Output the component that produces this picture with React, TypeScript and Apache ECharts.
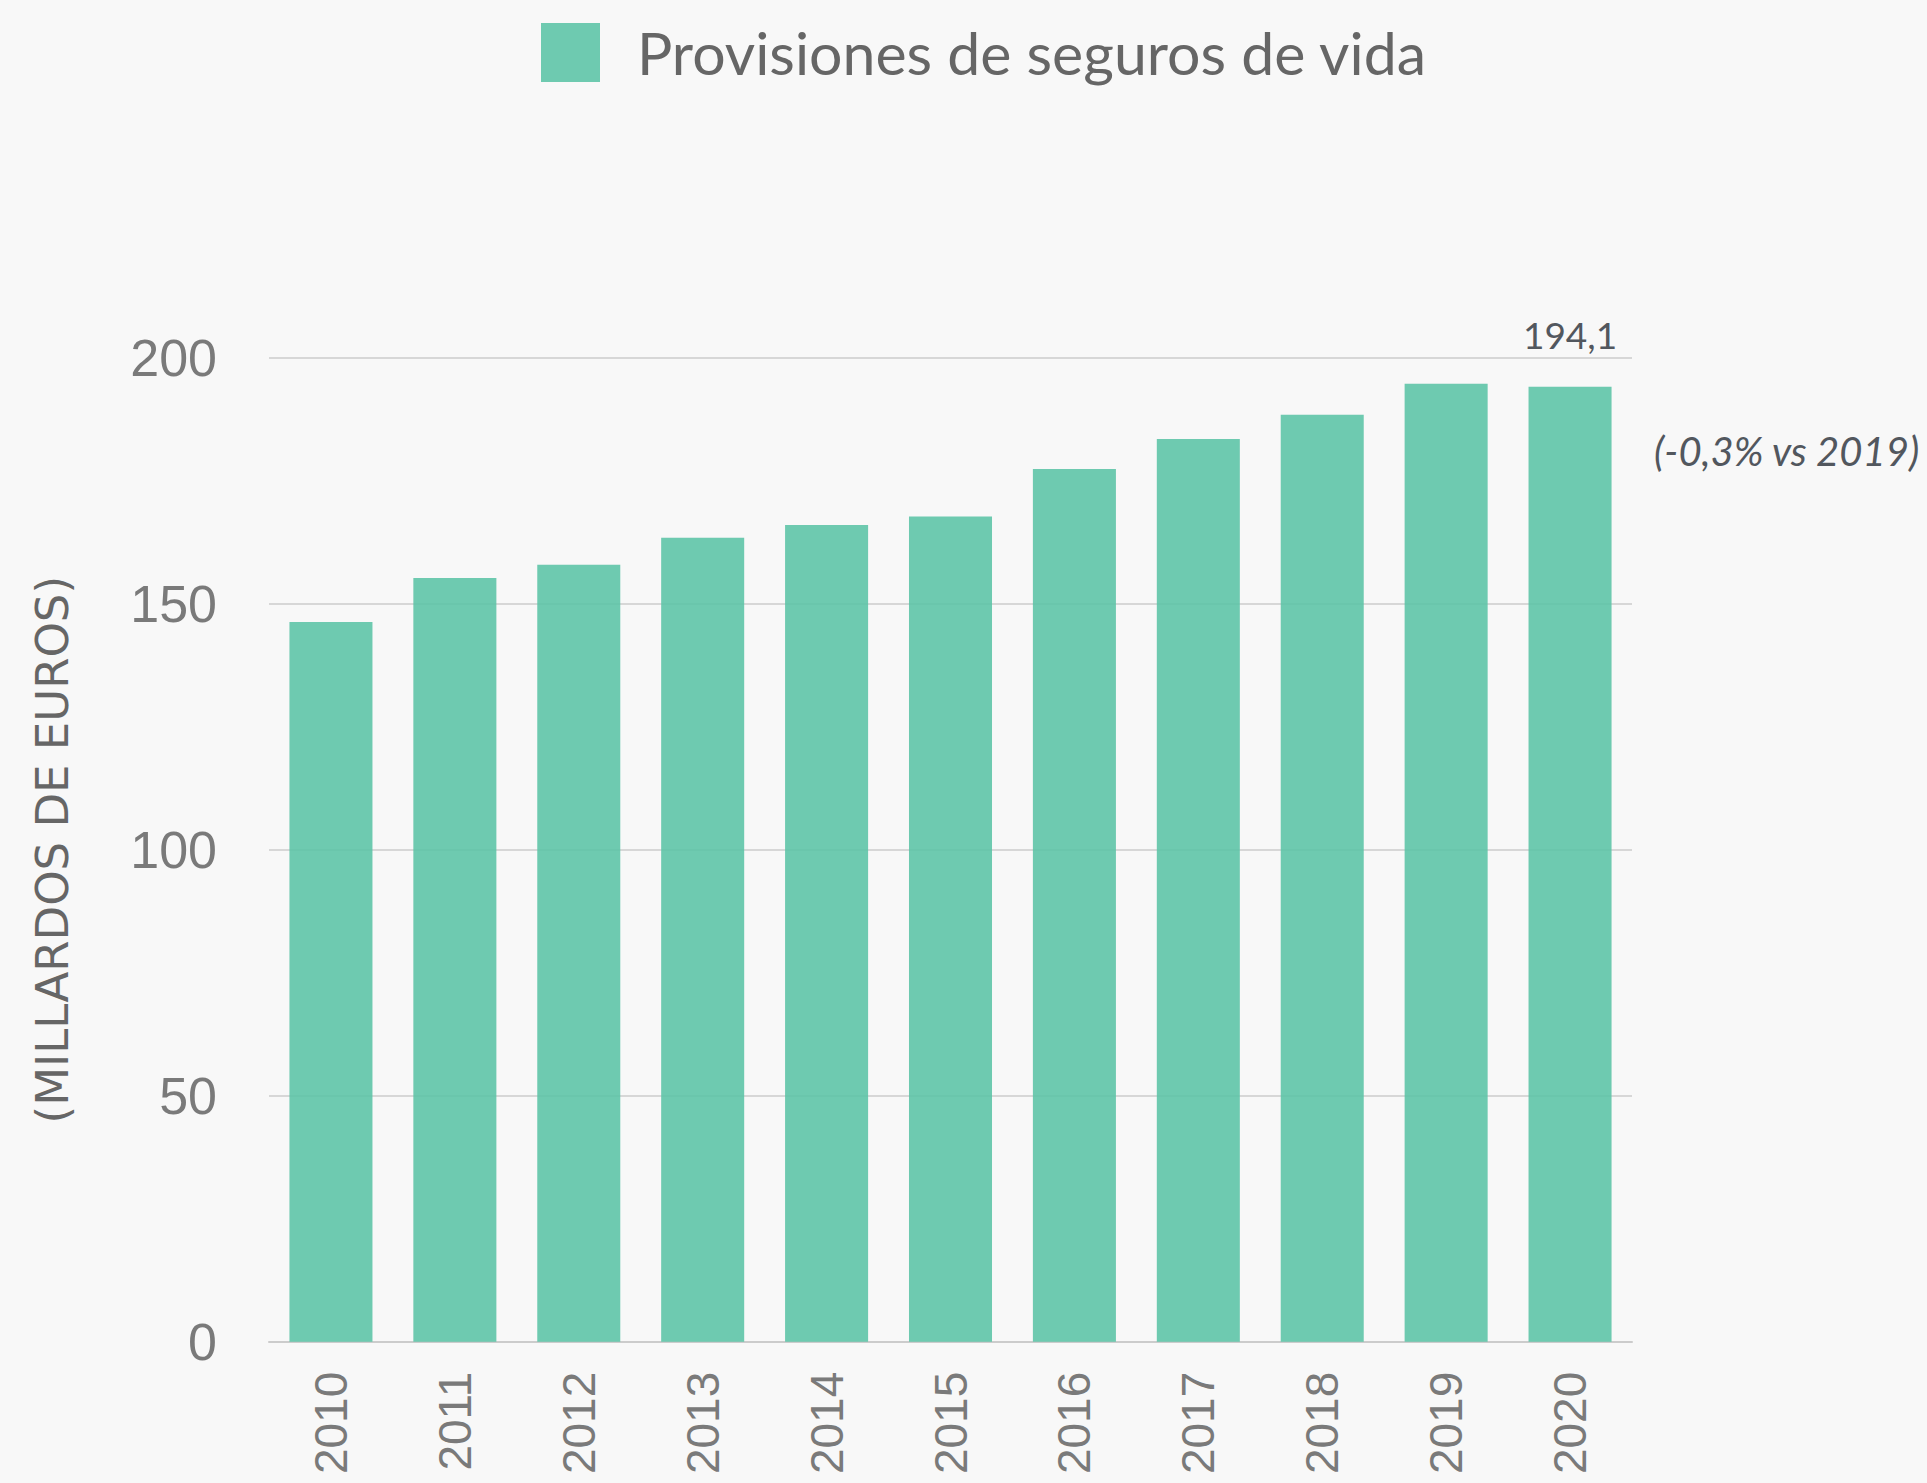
import React, { useEffect, useRef } from "react";
import * as echarts from "echarts";

const categories = ["2010", "2011", "2012", "2013", "2014", "2015", "2016", "2017", "2018", "2019", "2020"];
const values = [146.3, 155.2, 157.9, 163.4, 166.0, 167.7, 177.4, 183.5, 188.4, 194.7, 194.1];
const seriesName = "Provisiones de seguros de vida";
const yAxisTitle = "(MILLARDOS DE EUROS)";
const lastLabel = "194,1";
const changeNote = "(-0,3% vs 2019)";

export default function App() {
  const ref = useRef<HTMLDivElement>(null);
  useEffect(() => {
    document.body.style.margin = "0";
    document.body.style.background = "#f8f8f8";
    const chart = echarts.init(ref.current!, undefined, { renderer: "svg" });
    const data = values.map((v, i) =>
      i === values.length - 1
        ? {
            value: v,
            label: {
              show: true,
              position: "top",
              distance: 34,
              formatter: () => lastLabel,
              fontFamily: "Lato",
              fontSize: 37,
              color: "#52575e",
            },
          }
        : v
    );
    chart.setOption({
      animation: false,
      backgroundColor: "#f8f8f8",
      legend: {
        left: 541,
        top: 23,
        padding: 0,
        itemWidth: 59,
        itemHeight: 59,
        icon: "rect",
        textStyle: {
          fontFamily: "Lato",
          fontSize: 59,
          color: "#666666",
          padding: [0, 0, 8, 32],
        },
        data: [seriesName],
      },
      grid: { left: 269, right: 295, top: 357.7, bottom: 141.3, containLabel: false },
      xAxis: {
        type: "category",
        data: categories,
        axisTick: { show: false },
        axisLine: { lineStyle: { color: "#cccccc", width: 2 } },
        axisLabel: {
          rotate: 90,
          margin: 30,
          fontFamily: "Liberation Sans",
          fontSize: 46,
          color: "#7a7a7a",
        },
      },
      yAxis: {
        type: "value",
        min: 0,
        max: 200,
        interval: 50,
        name: yAxisTitle,
        nameLocation: "middle",
        nameRotate: 90,
        nameGap: 194,
        nameTextStyle: { fontFamily: "DejaVu Sans", fontSize: 45, color: "#666666" },
        axisLine: { show: false },
        axisTick: { show: false },
        axisLabel: {
          margin: 52,
          fontFamily: "Liberation Sans",
          fontSize: 52,
          color: "#7a7a7a",
        },
        splitLine: { lineStyle: { color: "#cccccc", width: 1.5 } },
      },
      series: [
        {
          name: seriesName,
          type: "bar",
          data,
          barCategoryGap: "33%",
          itemStyle: { color: "rgba(94,196,167,0.9)" },
        },
      ],
      graphic: [
        {
          type: "text",
          left: 1654,
          top: 431,
          style: {
            text: changeNote,
            fontFamily: "Lato",
            fontStyle: "italic",
            fontSize: 40,
            fill: "#52575e",
          },
        },
      ],
    });
    return () => chart.dispose();
  }, []);
  return <div ref={ref} style={{ width: 1927, height: 1483 }} />;
}
